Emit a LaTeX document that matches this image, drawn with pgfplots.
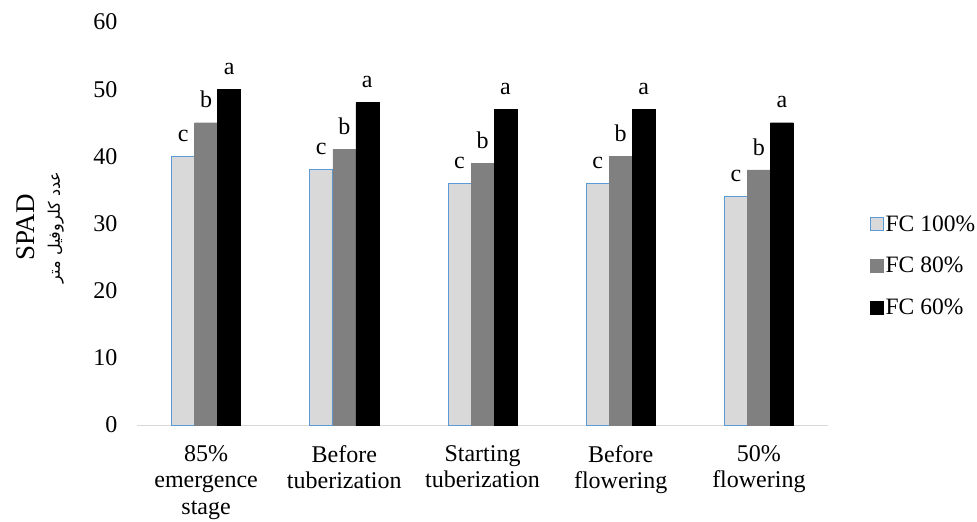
\documentclass[border=0pt]{standalone}
\usepackage{pgfplots}
\pgfplotsset{compat=1.18}
\usepackage{fontspec}
\setmainfont{Liberation Serif}
\newfontfamily\arabicfont[Script=Arabic]{DejaVu Sans}
\TeXXeTstate=1
\definecolor{lg}{HTML}{D9D9D9}
\definecolor{mg}{HTML}{808080}
\definecolor{bl}{HTML}{5B9BD5}
\definecolor{axc}{HTML}{D9D9D9}
\begin{document}
\begin{tikzpicture}
\useasboundingbox (0bp,0bp) rectangle (977bp,522bp);
\begin{axis}[
  at={(137bp,97bp)}, anchor=south west,
  scale only axis, width=691bp, height=403bp,
  ybar=0pt, bar width=23bp,
  xmin=-0.5, xmax=4.5, ymin=0, ymax=60,
  ytick={0,10,...,60},
  xtick={0,1,2,3,4},
  xticklabels={{85\%\\emergence\\stage},{Before\\tuberization},{Starting\\tuberization},{Before\\flowering},{50\%\\flowering}},
  axis x line*=bottom, axis y line*=left,
  y axis line style={draw=none},
  x axis line style={draw=axc, line width=1bp},
  major tick length=0pt,
  tick style={draw=none},
  ticklabel style={font=\fontsize{24bp}{26.5bp}\selectfont},
  /pgf/number format/assume math mode=true,
  xticklabel style={align=center, anchor=north, yshift=-17bp},
  yticklabel style={xshift=-16bp},
  ylabel={{\fontsize{27bp}{30bp}\selectfont SPAD}\\[12bp]{\arabicfont\fontsize{16bp}{18bp}\selectfont\beginR عدد کلروفیل متر\endR}},
  ylabel style={at={(axis description cs:-0.140,0.49)}, anchor=center, align=center},
  legend image code/.code={\draw[#1] (0bp,-6.5bp) rectangle (13bp,6.5bp);},
  legend style={draw=none, at={(1.060,0.395)}, anchor=west, font=\fontsize{23.5bp}{27bp}\selectfont, row sep=20.5bp, inner sep=0pt},
  legend cell align=left,
  every node near coord/.append style={font=\fontsize{24bp}{27bp}\selectfont, yshift=11bp},
  clip=false,
]
\addplot[fill=lg, draw=bl, line width=1bp, nodes near coords={c}] coordinates {(0,40) (1,38) (2,36) (3,36) (4,34)};
\addplot[fill=mg, draw=mg, nodes near coords={b}] coordinates {(0,45) (1,41) (2,39) (3,40) (4,38)};
\addplot[fill=black, draw=black, nodes near coords={a}] coordinates {(0,50) (1,48) (2,47) (3,47) (4,45)};
\legend{FC 100\%, FC 80\%, FC 60\%}
\end{axis}
\end{tikzpicture}
\end{document}
